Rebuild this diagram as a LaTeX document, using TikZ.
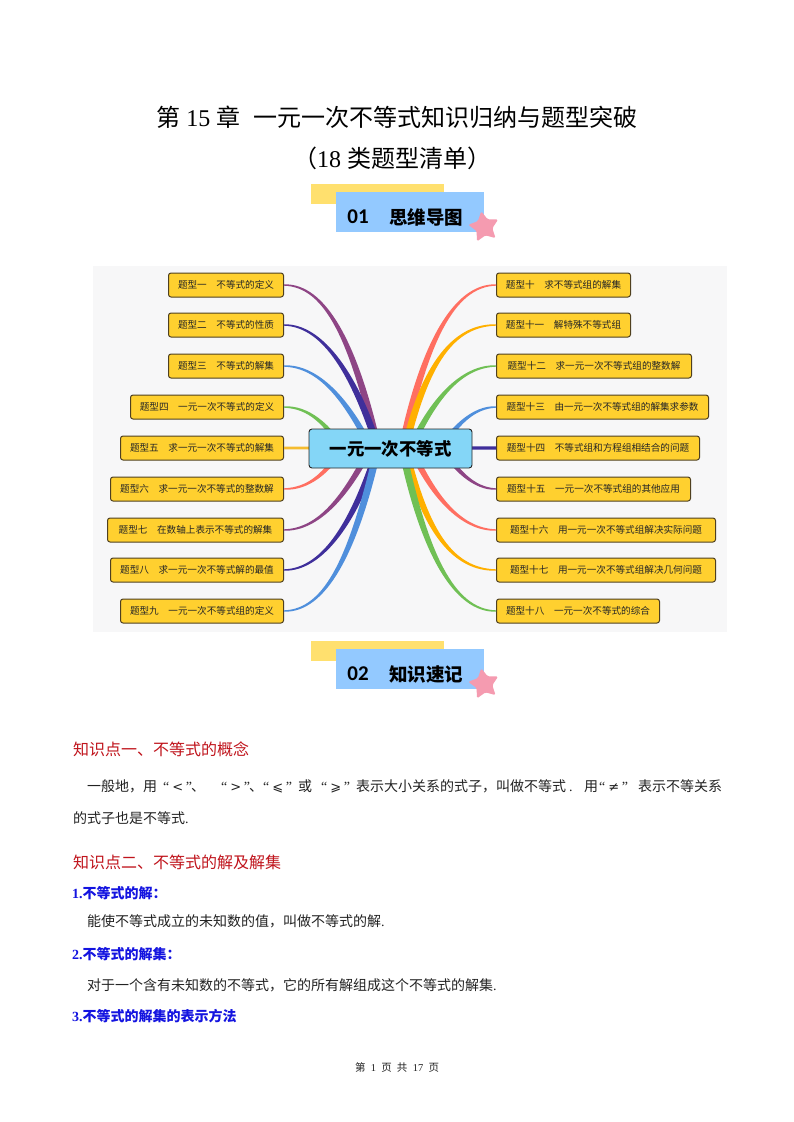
\documentclass[tikz,border=0pt]{standalone}
\usepackage{fontspec}
\usetikzlibrary{calc,shapes.geometric}
\setmainfont{Liberation Serif}
\newfontfamily\cjk{Noto Sans CJK SC}
\newfontfamily\numf{Carlito}
\newfontfamily\sym{DejaVu Sans}
\definecolor{cPurple}{HTML}{8E4585}
\definecolor{cNavy}{HTML}{3F2F9B}
\definecolor{cBlue}{HTML}{4F8FDC}
\definecolor{cGreen}{HTML}{70C055}
\definecolor{cGold}{HTML}{F5BC30}
\definecolor{cCoral}{HTML}{FF6F61}
\definecolor{cOrange}{HTML}{FFB000}
\definecolor{cLeaf}{HTML}{FFD02F}
\definecolor{cEdge}{HTML}{4F4020}
\definecolor{cBg}{HTML}{F7F7F8}
\definecolor{cHub}{HTML}{84D6F7}
\definecolor{cBan}{HTML}{93C9FF}
\definecolor{cYel}{HTML}{FFE06E}
\definecolor{cStar}{HTML}{F59BB0}
\definecolor{cRed}{HTML}{C0141C}
\definecolor{cHead}{HTML}{1414E0}
\definecolor{cInk}{HTML}{222222}
\tikzset{
  leaf/.style={draw=cEdge,fill=cLeaf,line width=1pt,rounded corners=2.5pt,minimum height=24pt,inner sep=0pt,text=black!85,font=\cjk\fontsize{9.6pt}{11pt}\selectfont},
  leafL/.style={leaf,anchor=east},
  leafR/.style={leaf,anchor=west},
  txt/.style={anchor=west,inner sep=0pt,text=cInk},
  redh/.style={txt,text=cRed,font=\cjk\fontsize{16pt}{18pt}\selectfont},
  blueh/.style={txt,text=cHead,font=\bfseries\fontsize{14pt}{16pt}\selectfont},
  body/.style={txt,font=\fontsize{14pt}{16pt}\selectfont},
  titlet/.style={inner sep=0pt,text=black,font=\fontsize{24pt}{28pt}\selectfont},
  bannerA/.style={fill=cYel},
  bannerB/.style={fill=cBan},
  pstar/.style={star,star points=5,star point ratio=1.9,fill=cStar,minimum size=32pt,inner sep=0pt,rotate=10,rounded corners=1.5pt},
  bant/.style={inner sep=0pt,text=black},
}
% colour, leaf anchor, end offset from hub, c1 offset from start, c2 offset from end, signed half width at the end
\newcommand\branch[6]{%
  \coordinate (bs) at (#2);
  \coordinate (be) at ($(hub)+(#3)$);
  \fill[#1] ($(bs)+(0,-0.7)$) .. controls ($(bs)+(#4)+(0,-1.8)$) and ($(be)+(#5)+(1.1*#6,0)$) .. ($(be)+(#6,0)$)
     -- ($(be)+(-#6,0)$) .. controls ($(be)+(#5)+(-1.1*#6,0)$) and ($(bs)+(#4)+(0,1.8)$) .. ($(bs)+(0,0.7)$) -- cycle;
}
\newcommand\atx[2]{\makebox[0pt][l]{\hspace{#1pt}#2}}
\newcommand\qq[1]{\makebox[29pt][s]{“\hfil{\sym\fontsize{13pt}{14pt}\selectfont #1}\hfil”}}
\begin{document}
\begin{tikzpicture}[x=1pt,y=-1pt]
\useasboundingbox (0,0) rectangle (793,1122);
\fill[white] (0,0) rectangle (793,1122);
% title
\node[titlet] (t1) at (397,117) {{\cjk 第} 15 {\cjk 章\hspace{8pt} 一元一次不等式知识归纳与题型突破}};
\node[titlet] (t2) at (392,158) {{\cjk （}18 {\cjk 类题型清单）}};
% banner 1
\fill[bannerA] (311,184) rectangle (444,204);
\fill[bannerB] (336,192) rectangle (484,232);
\node[pstar] (s1) at (484,227) {};
\node[bant,font=\numf\bfseries\fontsize{21pt}{24pt}\selectfont] (n1) at (358,217) {01};
\node[bant,font=\cjk\bfseries\fontsize{18.5pt}{22pt}\selectfont] (h1) at (426,217) {思维导图};
% map background
\fill[cBg] (93,266) rectangle (727,632);
\coordinate (hub) at (390,448);
% leaves left
\node[leafL,minimum width=115pt] (a1) at (284,285) {题型一　不等式的定义};
\node[leafL,minimum width=115pt] (a2) at (284,325) {题型二　不等式的性质};
\node[leafL,minimum width=115pt] (a3) at (284,366) {题型三　不等式的解集};
\node[leafL,minimum width=153pt] (a4) at (284,407) {题型四　一元一次不等式的定义};
\node[leafL,minimum width=163pt] (a5) at (284,448) {题型五　求一元一次不等式的解集};
\node[leafL,minimum width=173pt] (a6) at (284,489) {题型六　求一元一次不等式的整数解};
\node[leafL,minimum width=176pt] (a7) at (284,530) {题型七　在数轴上表示不等式的解集};
\node[leafL,minimum width=173pt] (a8) at (284,570) {题型八　求一元一次不等式解的最值};
\node[leafL,minimum width=163pt] (a9) at (284,611) {题型九　一元一次不等式组的定义};
% leaves right
\node[leafR,minimum width=134pt] (b1) at (496,285) {题型十　求不等式组的解集};
\node[leafR,minimum width=134pt] (b2) at (496,325) {题型十一　解特殊不等式组};
\node[leafR,minimum width=195pt] (b3) at (496,366) {题型十二　求一元一次不等式组的整数解};
\node[leafR,minimum width=212pt] (b4) at (496,407) {题型十三　由一元一次不等式组的解集求参数};
\node[leafR,minimum width=203pt] (b5) at (496,448) {题型十四　不等式组和方程组相结合的问题};
\node[leafR,minimum width=194pt] (b6) at (496,489) {题型十五　一元一次不等式组的其他应用};
\node[leafR,minimum width=219pt] (b7) at (496,530) {题型十六　用一元一次不等式组解决实际问题};
\node[leafR,minimum width=219pt] (b8) at (496,570) {题型十七　用一元一次不等式组解决几何问题};
\node[leafR,minimum width=163pt] (b9) at (496,611) {题型十八　一元一次不等式的综合};
% branches left
\branch{cPurple}{a1.east}{-12,0}{42,0}{-24,-105}{3.6}
\branch{cNavy}{a2.east}{-12,0}{40,0}{-22,-70}{3.6}
\branch{cBlue}{a3.east}{-18,2}{35,0}{-25,-50}{3.4}
\branch{cGreen}{a4.east}{-45,4}{25,0}{-18,-28}{3.2}
\fill[cGold] ($(a5.east)+(0,-1.4)$) -- ($(hub)+(0,-1.8)$) -- ($(hub)+(0,1.8)$) -- ($(a5.east)+(0,1.4)$) -- cycle;
\branch{cCoral}{a6.east}{-45,-3}{25,0}{-18,28}{-3.2}
\branch{cPurple}{a7.east}{-18,-3}{35,0}{-25,50}{-3.4}
\branch{cNavy}{a8.east}{-12,0}{40,0}{-22,70}{-3.6}
\branch{cBlue}{a9.east}{-12,0}{42,0}{-24,105}{-3.6}
% branches right
\branch{cCoral}{b1.west}{12,0}{-42,0}{22,-105}{-3.6}
\branch{cOrange}{b2.west}{15,0}{-42,0}{20,-85}{-3.6}
\branch{cGreen}{b3.west}{20,2}{-35,0}{22,-50}{-3.4}
\branch{cBlue}{b4.west}{50,2}{-22,0}{15,-25}{-3.2}
\fill[cNavy] ($(b5.west)+(0,-1.6)$) -- ($(hub)+(0,-2)$) -- ($(hub)+(0,2)$) -- ($(b5.west)+(0,1.6)$) -- cycle;
\branch{cPurple}{b6.west}{50,-3}{-22,0}{15,25}{3.2}
\branch{cCoral}{b7.west}{20,-2}{-35,0}{22,50}{3.4}
\branch{cOrange}{b8.west}{15,0}{-42,0}{20,85}{3.6}
\branch{cGreen}{b9.west}{12,0}{-42,0}{22,105}{3.6}
% hub
\node[draw=black!85,fill=cHub,line width=0.9pt,rounded corners=3pt,minimum width=163pt,minimum height=39pt,inner sep=0pt,font=\cjk\bfseries\fontsize{17.4pt}{20pt}\selectfont] (c) at (390.5,448.5) {一元一次不等式};
% banner 2
\fill[bannerA] (311,641) rectangle (444,661);
\fill[bannerB] (336,649) rectangle (484,689);
\node[pstar] (s2) at (484,684) {};
\node[bant,font=\numf\bfseries\fontsize{21pt}{24pt}\selectfont] (n2) at (358,674) {02};
\node[bant,font=\cjk\bfseries\fontsize{18.5pt}{22pt}\selectfont] (h2) at (426,674) {知识速记};
% body text
\node[redh] (k1) at (73,749) {知识点一、不等式的概念};
\node[body,minimum width=635pt,text depth=3pt,text height=11pt] (p1) at (87,787) {\makebox[635pt][l]{\atx{0}{\cjk 一般地，用}\atx{76}{\qq{<}}\atx{104}{\cjk 、}\atx{134}{\qq{>}}\atx{162}{\cjk 、}\atx{176}{\qq{⩽}}\atx{211}{\cjk 或}\atx{234}{\qq{⩾}}\atx{269}{\cjk 表示大小关系的式子，叫做不等式}\atx{482}{.}\atx{497}{\cjk 用}\atx{512}{\qq{≠}}\atx{551}{\cjk 表示不等关系}}};
\node[body] (p2) at (73,818) {{\cjk 的式子也是不等式}.};
\node[redh] (k2) at (73,862) {知识点二、不等式的解及解集};
\node[blueh] (q1) at (72,893) {1.{\cjk\bfseries 不等式的解：}};
\node[body] (p3) at (87,921) {{\cjk 能使不等式成立的未知数的值，叫做不等式的解}.};
\node[blueh] (q2) at (72,954) {2.{\cjk\bfseries 不等式的解集：}};
\node[body] (p4) at (87,985) {{\cjk 对于一个含有未知数的不等式，它的所有解组成这个不等式的解集}.};
\node[blueh] (q3) at (72,1016) {3.{\cjk\bfseries 不等式的解集的表示方法}};
\node[inner sep=0pt,text=cInk,font=\fontsize{10.5pt}{12pt}\selectfont] (f) at (397,1067) {{\cjk 第}\ \ 1\ \ {\cjk 页}\ \ {\cjk 共}\ \ 17\ \ {\cjk 页}};
\end{tikzpicture}
\end{document}
